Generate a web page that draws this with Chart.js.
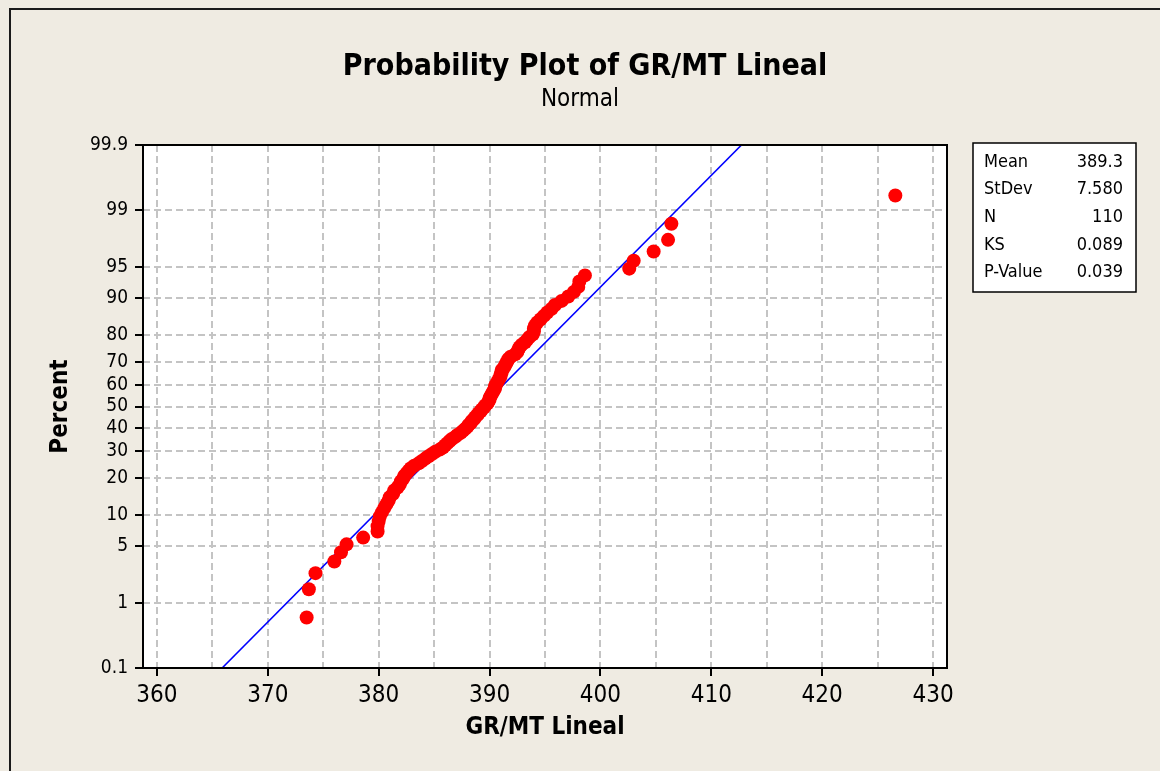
<!DOCTYPE html>
<html>
<head>
<meta charset="utf-8">
<script src="https://cdn.jsdelivr.net/npm/chart.js@4.4.1/dist/chart.umd.min.js"></script>
<style>
  html, body { margin: 0; padding: 0; background: #EFEBE2; }
  #wrap { width: 1160px; height: 771px; }
</style>
</head>
<body>
<div id="wrap"><canvas id="probChart" width="1160" height="771"></canvas></div>
<script>
// GR/MT Lineal readings, sorted (n = 110)
const grmtValues = [
  373.5, 373.7, 374.3, 376.0, 376.6, 377.1, 378.6, 379.9, 379.9, 380.0,
  380.1, 380.3, 380.5, 380.7, 380.9, 381.0, 381.3, 381.4, 381.7, 381.9,
  382.0, 382.2, 382.3, 382.5, 382.7, 382.9, 383.2, 383.6, 383.9, 384.2,
  384.5, 384.8, 385.1, 385.5, 385.8, 386.0, 386.2, 386.4, 386.6, 386.9,
  387.1, 387.4, 387.6, 387.8, 388.0, 388.1, 388.3, 388.4, 388.6, 388.7,
  388.9, 389.0, 389.2, 389.3, 389.5, 389.6, 389.8, 389.9, 390.0, 390.0,
  390.1, 390.2, 390.3, 390.4, 390.5, 390.5, 390.6, 390.7, 390.8, 390.9,
  391.0, 391.0, 391.1, 391.1, 391.3, 391.4, 391.5, 391.6, 391.7, 391.9,
  392.3, 392.5, 392.6, 392.7, 392.9, 393.2, 393.4, 393.6, 393.9, 394.0,
  394.0, 394.1, 394.3, 394.6, 394.9, 395.2, 395.6, 395.9, 396.5, 397.1,
  397.6, 398.0, 398.1, 398.6, 402.6, 403.0, 404.8, 406.1, 406.4, 426.6
];
const percentTicks = [0.1, 1, 5, 10, 20, 30, 40, 50, 60, 70, 80, 90, 95, 99, 99.9];
const xTicks = [360, 365, 370, 375, 380, 385, 390, 395, 400, 405, 410, 415, 420, 425, 430];
const statLabels = ['Mean', 'StDev', 'N', 'KS', 'P-Value'];
const statValues = ['389.3', '7.580', '110', '0.089', '0.039'];
const fitMean = 389.3;
const fitStDev = 7.580;

const FONT = "'DejaVu Sans Condensed', 'DejaVu Sans', sans-serif";

// inverse standard normal CDF (Acklam)
function normInv(p) {
  const a = [-39.69683028665376, 220.9460984245205, -275.9285104469687, 138.3577518672690, -30.66479806614716, 2.506628277459239];
  const b = [-54.47609879822406, 161.5858368580409, -155.6989798598866, 66.80131188771720, -13.28068155288572];
  const c = [-0.007784894002430293, -0.3223964580411365, -2.400758277161838, -2.549732539343734, 4.374664141464968, 2.938163982698783];
  const d = [0.007784695709041462, 0.3224671290700398, 2.445134137142996, 3.754408661907416];
  const pl = 0.02425;
  let q, r;
  if (p < pl) {
    q = Math.sqrt(-2 * Math.log(p));
    return (((((c[0]*q+c[1])*q+c[2])*q+c[3])*q+c[4])*q+c[5]) / ((((d[0]*q+d[1])*q+d[2])*q+d[3])*q+1);
  }
  if (p > 1 - pl) {
    q = Math.sqrt(-2 * Math.log(1 - p));
    return -(((((c[0]*q+c[1])*q+c[2])*q+c[3])*q+c[4])*q+c[5]) / ((((d[0]*q+d[1])*q+d[2])*q+d[3])*q+1);
  }
  q = p - 0.5; r = q * q;
  return (((((a[0]*r+a[1])*r+a[2])*r+a[3])*r+a[4])*r+a[5])*q / (((((b[0]*r+b[1])*r+b[2])*r+b[3])*r+b[4])*r+1);
}

// plotting positions (median ranks, as Minitab does)
const n = grmtValues.length;
const points = grmtValues.map((v, i) => ({ x: v, y: normInv((i + 1 - 0.3) / (n + 0.4)) }));
const fitLine = [0.1, 99.9].map(p => ({ x: fitMean + fitStDev * normInv(p / 100), y: normInv(p / 100) }));

const framePlugin = {
  id: 'frame',
  beforeDraw(chart) {
    const { ctx, chartArea: a } = chart;
    ctx.save();
    ctx.fillStyle = '#EFEBE2';
    ctx.fillRect(0, 0, chart.width, chart.height);
    ctx.strokeStyle = '#1a1a1a';
    ctx.lineWidth = 2;
    ctx.strokeRect(10, 9, 1300, 900);
    ctx.fillStyle = '#FFFFFF';
    ctx.fillRect(a.left, a.top, a.right - a.left, a.bottom - a.top);
    ctx.restore();
  },
  afterDraw(chart) {
    const { ctx, chartArea: a } = chart;
    ctx.save();
    // plot frame
    ctx.strokeStyle = '#000';
    ctx.lineWidth = 2;
    ctx.strokeRect(a.left, a.top, a.right - a.left, a.bottom - a.top);
    // titles
    ctx.fillStyle = '#000';
    ctx.textAlign = 'center';
    ctx.textBaseline = 'alphabetic';
    ctx.font = 'bold 30px ' + FONT;
    ctx.fillText('Probability Plot of GR/MT Lineal', 585, 75);
    ctx.font = '24px ' + FONT;
    ctx.fillText('Normal', 580, 106);
    // stats box
    const bx = 973, by = 143, bw = 163, bh = 149;
    ctx.fillStyle = '#FFFFFF';
    ctx.fillRect(bx, by, bw, bh);
    ctx.strokeStyle = '#000';
    ctx.lineWidth = 1.5;
    ctx.strokeRect(bx, by, bw, bh);
    ctx.fillStyle = '#000';
    ctx.font = '18px ' + FONT;
    ctx.textBaseline = 'middle';
    statLabels.forEach((lab, i) => {
      const y = by + 19 + i * 27.7;
      ctx.textAlign = 'left';
      ctx.fillText(lab, bx + 11, y);
      ctx.textAlign = 'right';
      ctx.fillText(statValues[i], bx + bw - 13, y);
    });
    ctx.restore();
  }
};

new Chart(document.getElementById('probChart').getContext('2d'), {
  type: 'scatter',
  data: {
    datasets: [
      {
        label: 'GR/MT Lineal',
        data: points,
        backgroundColor: '#FF0000',
        borderColor: '#FF0000',
        pointRadius: 7,
        pointHoverRadius: 7,
        borderWidth: 0
      },
      {
        label: 'Fit',
        data: fitLine,
        showLine: true,
        borderColor: '#0000FF',
        borderWidth: 1.6,
        pointRadius: 0,
        fill: false
      }
    ]
  },
  options: {
    responsive: false,
    animation: false,
    layout: { padding: { top: 145, right: 213, bottom: 0, left: 0 } },
    plugins: {
      legend: { display: false },
      title: { display: false },
      tooltip: { enabled: false }
    },
    scales: {
      x: {
        type: 'linear',
        min: 358.74,
        max: 431.26,
        afterFit: s => { s.height = 103; },
        afterBuildTicks: s => { s.ticks = xTicks.map(v => ({ value: v })); },
        ticks: {
          autoSkip: false,
          maxRotation: 0,
          padding: 5,
          color: '#000',
          font: { family: FONT, size: 24 },
          callback: v => (v % 10 === 0 ? String(v) : '')
        },
        grid: {
          color: '#C4C4C4',
          lineWidth: 2,
          tickLength: 8,
          tickWidth: 2,
          tickColor: c => (c.tick && c.tick.value % 10 === 0 ? '#000' : 'rgba(0,0,0,0)')
        },
        border: { display: false, dash: [7, 4] },
        title: {
          display: true,
          text: 'GR/MT Lineal',
          color: '#000',
          font: { family: FONT, size: 24, weight: 'bold', lineHeight: 1 },
          padding: { top: 0, bottom: 31 }
        }
      },
      y: {
        type: 'linear',
        min: normInv(0.001),
        max: normInv(0.999),
        afterFit: s => { s.width = 143; },
        afterBuildTicks: s => { s.ticks = percentTicks.map(p => ({ value: normInv(p / 100) })); },
        ticks: {
          autoSkip: false,
          padding: 7,
          color: '#000',
          font: { family: FONT, size: 19 },
          callback: (v, i) => String(percentTicks[i])
        },
        grid: {
          color: '#C4C4C4',
          lineWidth: 2,
          tickLength: 8,
          tickWidth: 2,
          tickColor: '#000'
        },
        border: { display: false, dash: [7, 4] },
        title: {
          display: true,
          text: 'Percent',
          color: '#000',
          font: { family: FONT, size: 24, weight: 'bold', lineHeight: 1 },
          padding: { top: 49, bottom: 0 }
        }
      }
    }
  },
  plugins: [framePlugin]
});
</script>
</body>
</html>
